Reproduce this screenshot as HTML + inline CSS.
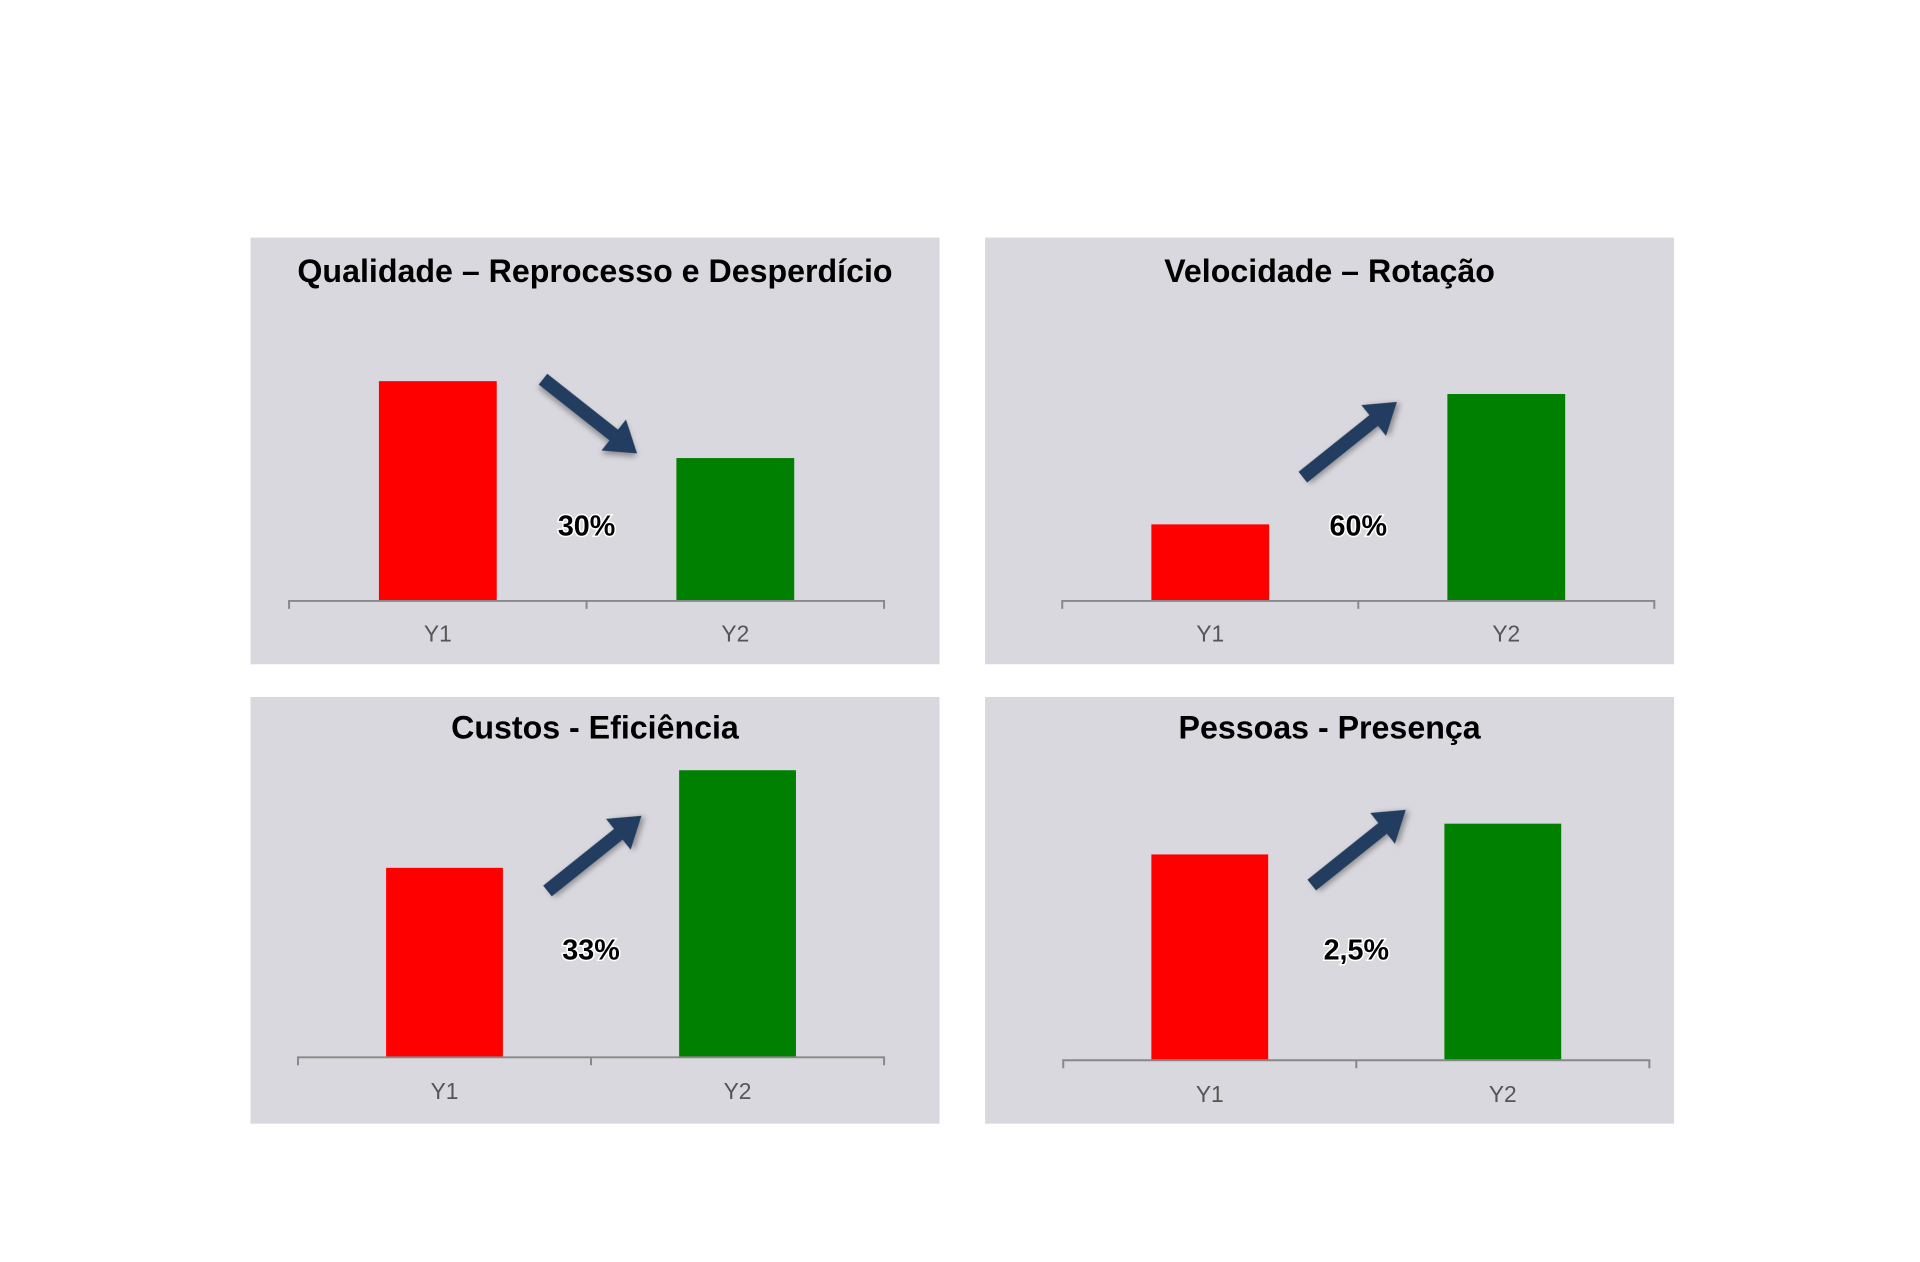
<!DOCTYPE html>
<html><head><meta charset="utf-8"><style>
html,body{margin:0;padding:0;background:#fff;width:1920px;height:1262px;overflow:hidden}
svg{display:block}
</style></head><body>
<svg id="s" width="1920" height="1262" xmlns="http://www.w3.org/2000/svg">
<defs>
<filter id="sh" x="-30%" y="-30%" width="160%" height="160%"><feDropShadow dx="2" dy="3" stdDeviation="3" flood-color="#000" flood-opacity="0.35"/></filter>
</defs>
<g id="root" transform="scale(0.99)"></g>
</svg>
<script>
const titles = ["Qualidade – Reprocesso e Desperdício","Velocidade – Rotação","Custos - Eficiência","Pessoas - Presença"];
const categories = ["Y1","Y2"];
const y1Values = [100, 37, 66, 87];
const y2Values = [65, 100, 100, 100];
const changeLabels = ["30%","60%","33%","2,5%"];
const directions = ["down","up","up","up"];

const NS="http://www.w3.org/2000/svg";
const svg=document.getElementById('root');
function mk(tag,attrs,parent){const e=document.createElementNS(NS,tag);for(const k in attrs)e.setAttribute(k,attrs[k]);(parent||svg).appendChild(e);return e;}
const panels=[
 {x:253,y:240,w:696,h:431,ax0:292,ax1:893,axY:607,pxPerUnit:2.22,titleY:285,labY:648,pctY:541,barW:119},
 {x:995,y:240,w:696,h:431,ax0:1073,ax1:1671,axY:607,pxPerUnit:2.09,titleY:285,labY:648,pctY:541,barW:119},
 {x:253,y:704,w:696,h:431,ax0:301,ax1:893,axY:1068,pxPerUnit:2.90,titleY:746,labY:1110,pctY:969,barW:118},
 {x:995,y:704,w:696,h:431,ax0:1074,ax1:1666,axY:1071,pxPerUnit:2.39,titleY:746,labY:1113,pctY:969,barW:118}
];
const colors=["#ff0000","#008000"];
panels.forEach((p,i)=>{
  const g=mk('g',{});
  
  
  const bg=mk('rect',{x:p.x,y:p.y,width:p.w,height:p.h,fill:'#d9d8de'},g);
  
  
  const t=mk('text',{x:p.x+p.w/2,y:p.titleY,'text-anchor':'middle','font-family':'Liberation Sans, sans-serif','font-weight':'bold','font-size':'32.5',fill:'#000'},g);
  t.textContent=titles[i];
  
  
  const bandW=(p.ax1-p.ax0)/categories.length;
  const xC=k=>p.ax0+bandW*(k+0.5);
  const yS=v=>p.axY-v*p.pxPerUnit;
  const vals=[y1Values[i],y2Values[i]];
  const tops=[];
  vals.forEach((v,k)=>{
    const b=mk('rect',{x:xC(k)-p.barW/2,y:yS(v),width:p.barW,height:p.axY-yS(v),fill:colors[k]},g);
    
    
    tops.push(yS(v));
    const l=mk('text',{x:xC(k),y:p.labY,'text-anchor':'middle','font-family':'Liberation Sans, sans-serif','font-size':'23',fill:'#555'},g);
    l.textContent=categories[k];
    
    
  });
  const ax=mk('path',{d:`M${p.ax0},${p.axY+8}V${p.axY}H${p.ax1}V${p.axY+8}M${(p.ax0+p.ax1)/2},${p.axY}V${p.axY+8}`,stroke:'#888',fill:'none','stroke-width':2},g);
  
  
  const mid=(p.ax0+p.ax1)/2;
  let x0,y0,x1,y1;
  if(directions[i]==='down'){x0=mid-44;y0=Math.min(...tops)-2;x1=mid+51;y1=y0+75;}
  else{x0=mid-56+(i===3?11:(i===2?12:0));y0=(i===1?482:(i===2?900:894));x1=x0+95;y1=y0-76;}
  const ang=Math.atan2(y1-y0,x1-x0),L=Math.hypot(x1-x0,y1-y0);
  const ar=mk('path',{d:`M0,-7H${L-30}V-20L${L},0L${L-30},20V7H0Z`,fill:'#233d5e',filter:'url(#sh)',transform:`translate(${x0},${y0}) rotate(${ang*180/Math.PI})`},g);
  
  
  const pc=mk('text',{x:mid,y:p.pctY,'text-anchor':'middle','font-family':'Liberation Sans, sans-serif','font-weight':'bold','font-size':'29',fill:'#000',stroke:'#fff','stroke-width':3,'paint-order':'stroke'},g);
  pc.textContent=changeLabels[i];
  
  
});
</script>
</body></html>
